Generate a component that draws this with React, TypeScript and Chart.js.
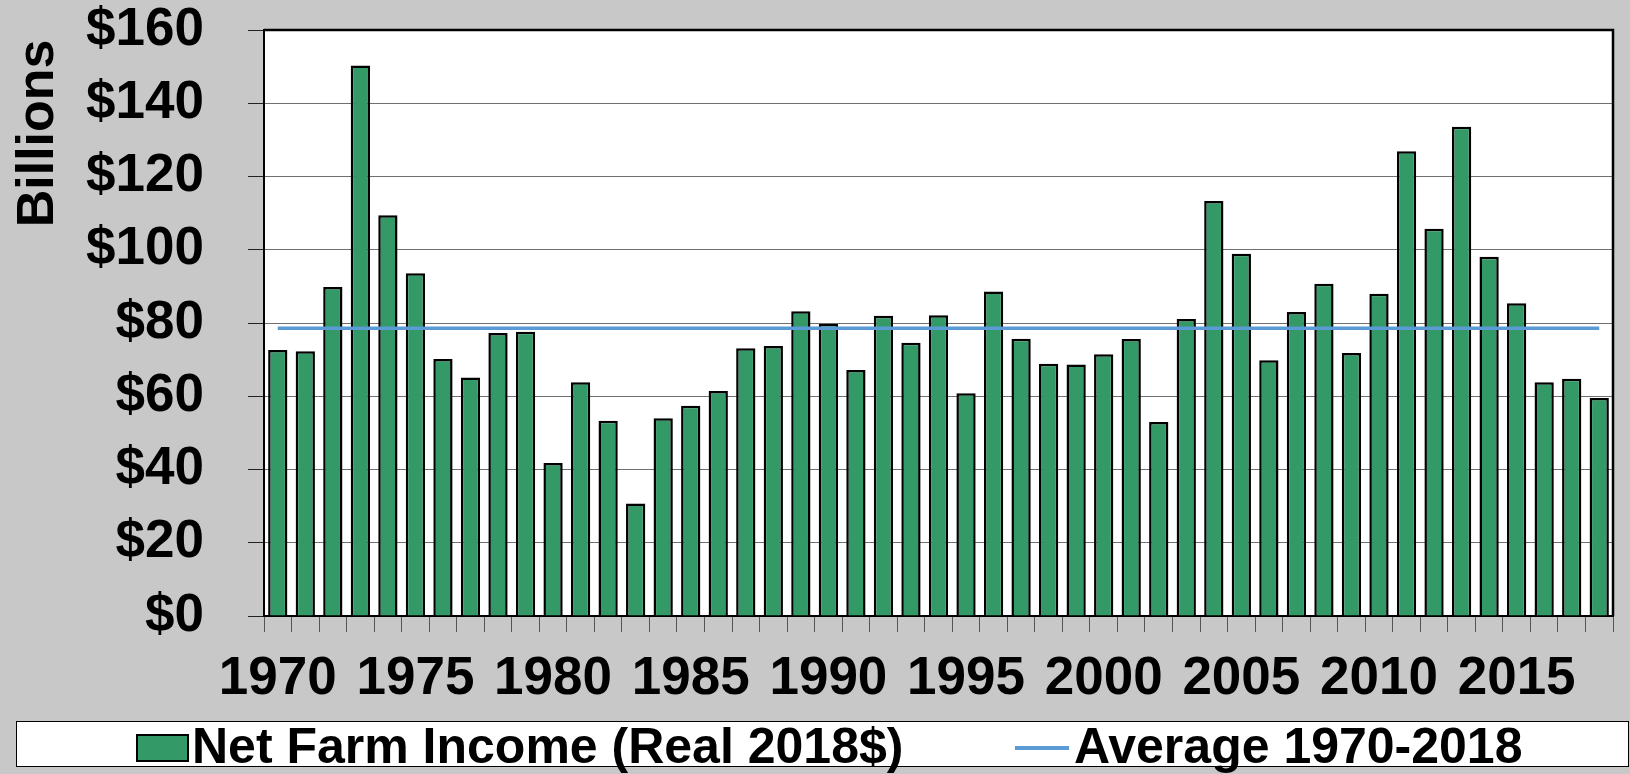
import React, { useEffect, useRef } from 'react';
import { Chart, registerables } from 'chart.js';

Chart.register(...registerables);

// ---------------- data ----------------
const years = [
  '1970', '1971', '1972', '1973', '1974', '1975', '1976', '1977', '1978', '1979',
  '1980', '1981', '1982', '1983', '1984', '1985', '1986', '1987', '1988', '1989',
  '1990', '1991', '1992', '1993', '1994', '1995', '1996', '1997', '1998', '1999',
  '2000', '2001', '2002', '2003', '2004', '2005', '2006', '2007', '2008', '2009',
  '2010', '2011', '2012', '2013', '2014', '2015', '2016', '2017', '2018',
];

// Net farm income, real 2018 dollars (billions)
const netFarmIncome = [
  72.6, 72.3, 89.8, 150.3, 109.4, 93.6, 70.2, 65.1, 77.3, 77.6,
  41.8, 63.8, 53.3, 30.7, 54.0, 57.4, 61.4, 73.1, 73.7, 83.2,
  79.8, 67.2, 82.0, 74.6, 82.1, 60.8, 88.6, 75.7, 68.9, 68.7,
  71.5, 75.6, 53.0, 81.1, 113.3, 98.9, 69.8, 83.0, 90.7, 71.8,
  88.0, 126.9, 105.7, 133.6, 98.1, 85.4, 63.8, 64.8, 59.5,
];

// Average 1970-2018 line, from first to last year
const averageYears = ['1970', '2018'];
const averageValues = [78.6, 78.6];

const yAxisMin = 0;
const yAxisMax = 160;
const yAxisStep = 20;
const yAxisTitle = 'Billions';
const barLabel = 'Net Farm Income (Real 2018$)';
const lineLabel = 'Average 1970-2018';

// ---------------- styles ----------------
const FONT = '"Liberation Sans", Arial, Helvetica, sans-serif';
const BG = '#C8C8C8';
const BAR_GREEN = '#339966';
const LINE_BLUE = '#5B9BD5';

export default function App() {
  const canvasRef = useRef<HTMLCanvasElement | null>(null);

  useEffect(() => {
    const canvas = canvasRef.current;
    if (!canvas) return;

    const plotFrame = {
      id: 'plotFrame',
      beforeDraw(chart: any) {
        const { ctx, chartArea } = chart;
        ctx.save();
        ctx.fillStyle = '#FFFFFF';
        ctx.fillRect(chartArea.left, chartArea.top, chartArea.right - chartArea.left, chartArea.bottom - chartArea.top);
        ctx.restore();
      },
      afterDraw(chart: any) {
        const { ctx, chartArea } = chart;
        ctx.save();
        ctx.strokeStyle = '#000000';
        ctx.lineWidth = 2.5;
        ctx.beginPath();
        ctx.moveTo(chartArea.left, chartArea.top);
        ctx.lineTo(chartArea.right, chartArea.top);
        ctx.lineTo(chartArea.right, chartArea.bottom);
        ctx.stroke();
        // rotated y-axis title
        ctx.fillStyle = '#000000';
        ctx.font = `bold 52px ${FONT}`;
        ctx.textAlign = 'right';
        ctx.textBaseline = 'alphabetic';
        ctx.translate(52.5, chartArea.top + 9.5);
        ctx.rotate(-Math.PI / 2);
        ctx.fillText(yAxisTitle, 0, 0);
        ctx.restore();
      },
    };

    const chart = new Chart(canvas, {
      type: 'bar',
      data: {
        labels: years,
        datasets: [
          {
            type: 'line',
            label: lineLabel,
            data: averageYears.map((x, i) => ({ x, y: averageValues[i] })),
            borderColor: LINE_BLUE,
            backgroundColor: LINE_BLUE,
            borderWidth: 3.5,
            pointRadius: 0,
            pointHoverRadius: 0,
            fill: false,
            order: 0,
          } as any,
          {
            type: 'bar',
            label: barLabel,
            data: netFarmIncome,
            backgroundColor: BAR_GREEN,
            borderColor: '#000000',
            borderWidth: 2.5,
            borderSkipped: 'start',
            categoryPercentage: 1,
            barPercentage: 0.7,
            order: 1,
          },
        ],
      },
      options: {
        responsive: false,
        maintainAspectRatio: false,
        animation: false,
        devicePixelRatio: 1,
        layout: { padding: { left: 0, top: 30, right: 17, bottom: 58 } },
        plugins: {
          legend: { display: false },
          tooltip: { enabled: false },
          title: { display: false },
        },
        scales: {
          x: {
            type: 'category',
            offset: true,
            grid: {
              display: true,
              offset: true,
              drawOnChartArea: false,
              drawTicks: true,
              tickLength: 16,
              tickColor: '#555555',
              lineWidth: 1,
            },
            border: { display: true, color: '#000000', width: 2 },
            ticks: {
              autoSkip: false,
              maxRotation: 0,
              minRotation: 0,
              padding: 16,
              color: '#000000',
              font: { family: FONT, size: 53, weight: 'bold', lineHeight: 1.2 },
              callback: function (this: any, value: any) {
                const lbl = String(this.getLabelForValue(value));
                return Number(lbl) % 5 === 0 ? lbl : '';
              },
            },
            afterFit(scale: any) {
              scale.height = 100;
              scale.paddingLeft = 0;
              scale.paddingRight = 0;
            },
          },
          y: {
            type: 'linear',
            min: yAxisMin,
            max: yAxisMax,
            grid: {
              color: '#707070',
              lineWidth: 1,
              drawTicks: true,
              tickLength: 16,
              tickColor: '#222222',
            },
            border: { display: true, color: '#000000', width: 2 },
            ticks: {
              stepSize: yAxisStep,
              padding: 44,
              color: '#000000',
              font: { family: FONT, size: 53, weight: 'bold', lineHeight: 1.0 },
              callback: (v: any) => '$' + v,
            },
            afterFit(scale: any) {
              scale.width = 264;
              scale.paddingTop = 0;
              scale.paddingBottom = 0;
            },
          },
        },
      } as any,
      plugins: [plotFrame],
    });

    return () => chart.destroy();
  }, []);

  const legendText: React.CSSProperties = {
    position: 'absolute',
    top: 721,
    fontFamily: FONT,
    fontWeight: 'bold',
    fontSize: 50,
    lineHeight: '50px',
    color: '#000',
    whiteSpace: 'nowrap',
  };

  return (
    <div style={{ position: 'absolute', left: 0, top: 0, width: 1630, height: 774, background: BG, overflow: 'hidden' }}>
      <canvas ref={canvasRef} width={1630} height={774} style={{ position: 'absolute', left: 0, top: 0, width: 1630, height: 774 }} />
      <div
        style={{
          position: 'absolute',
          left: 15.5,
          top: 720.5,
          width: 1613,
          height: 46,
          background: '#FFFFFF',
          border: '1px solid #000',
          boxSizing: 'border-box',
        }}
      />
      <div
        style={{
          position: 'absolute',
          left: 135.5,
          top: 734,
          width: 53,
          height: 28,
          background: BAR_GREEN,
          border: '2.5px solid #000',
          boxSizing: 'border-box',
        }}
      />
      <span style={{ ...legendText, left: 192 }}>{barLabel}</span>
      <div style={{ position: 'absolute', left: 1015, top: 745.7, width: 54, height: 4, background: LINE_BLUE }} />
      <span style={{ ...legendText, left: 1074 }}>{lineLabel}</span>
    </div>
  );
}
